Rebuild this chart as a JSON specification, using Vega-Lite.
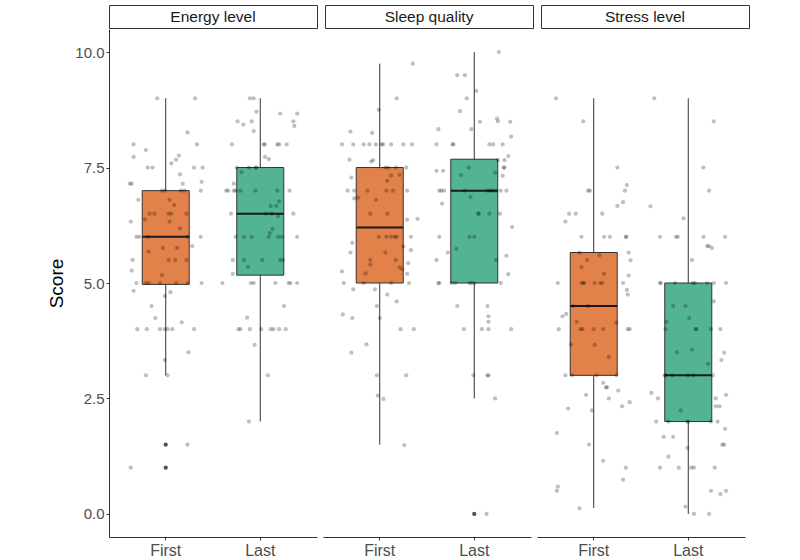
{
"$schema": "https://vega.github.io/schema/vega-lite/v6.json",
"padding": {"left": 47, "top": 4, "right": 0, "bottom": 0},
"background": "white",
"config": {
  "font": "Liberation Sans",
  "view": {"stroke": null},
  "axis": {"labelFont": "Liberation Sans", "labelFontSize": 15, "labelColor": "#4D4D4D", "domainColor": "#333333", "tickColor": "#333333", "tickSize": 3, "grid": false, "titleFont": "Liberation Sans", "titleFontWeight": "normal", "titleFontSize": 19, "titleColor": "#000000"},
  "concat": {"spacing": 0}
},
"data": {"values": [
{"kind":"box","panel":"Energy level","time":"First","lower":3.0,"q1":4.97,"median":6.0,"q3":7.0,"upper":9.0},
{"kind":"box","panel":"Energy level","time":"Last","lower":2.0,"q1":5.17,"median":6.5,"q3":7.5,"upper":9.0},
{"kind":"box","panel":"Sleep quality","time":"First","lower":1.5,"q1":5.0,"median":6.2,"q3":7.5,"upper":9.75},
{"kind":"box","panel":"Sleep quality","time":"Last","lower":2.5,"q1":5.0,"median":7.0,"q3":7.68,"upper":10.0},
{"kind":"box","panel":"Stress level","time":"First","lower":0.13,"q1":3.0,"median":4.5,"q3":5.66,"upper":9.0},
{"kind":"box","panel":"Stress level","time":"Last","lower":0.0,"q1":2.0,"median":3.0,"q3":5.0,"upper":9.0},
{"kind":"out","panel":"Energy level","time":"First","score":1.5},
{"kind":"out","panel":"Energy level","time":"First","score":1.0},
{"kind":"out","panel":"Sleep quality","time":"Last","score":0.0},
{"kind":"pt","panel":"Energy level","time":"First","score":9.0,"jitter":-0.09},
{"kind":"pt","panel":"Energy level","time":"First","score":9.0,"jitter":0.31},
{"kind":"pt","panel":"Energy level","time":"First","score":8.26,"jitter":0.23},
{"kind":"pt","panel":"Energy level","time":"First","score":8.0,"jitter":-0.34},
{"kind":"pt","panel":"Energy level","time":"First","score":8.0,"jitter":0.33},
{"kind":"pt","panel":"Energy level","time":"First","score":7.88,"jitter":-0.21},
{"kind":"pt","panel":"Energy level","time":"First","score":7.73,"jitter":-0.34},
{"kind":"pt","panel":"Energy level","time":"First","score":7.76,"jitter":0.14},
{"kind":"pt","panel":"Energy level","time":"First","score":7.67,"jitter":0.11},
{"kind":"pt","panel":"Energy level","time":"First","score":7.59,"jitter":0.06},
{"kind":"pt","panel":"Energy level","time":"First","score":7.5,"jitter":-0.19},
{"kind":"pt","panel":"Energy level","time":"First","score":7.5,"jitter":-0.14},
{"kind":"pt","panel":"Energy level","time":"First","score":7.5,"jitter":0.3},
{"kind":"pt","panel":"Energy level","time":"First","score":7.5,"jitter":0.39},
{"kind":"pt","panel":"Energy level","time":"First","score":7.35,"jitter":0.15},
{"kind":"pt","panel":"Energy level","time":"First","score":7.15,"jitter":-0.38},
{"kind":"pt","panel":"Energy level","time":"First","score":7.15,"jitter":-0.36},
{"kind":"pt","panel":"Energy level","time":"First","score":7.15,"jitter":0.18},
{"kind":"pt","panel":"Energy level","time":"First","score":7.19,"jitter":0.38},
{"kind":"pt","panel":"Energy level","time":"First","score":7.0,"jitter":-0.04},
{"kind":"pt","panel":"Energy level","time":"First","score":7.0,"jitter":-0.01},
{"kind":"pt","panel":"Energy level","time":"First","score":7.0,"jitter":0.16},
{"kind":"pt","panel":"Energy level","time":"First","score":7.0,"jitter":0.2},
{"kind":"pt","panel":"Energy level","time":"First","score":7.0,"jitter":0.37},
{"kind":"pt","panel":"Energy level","time":"First","score":6.8,"jitter":-0.29},
{"kind":"pt","panel":"Energy level","time":"First","score":6.8,"jitter":0.04},
{"kind":"pt","panel":"Energy level","time":"First","score":6.69,"jitter":0.09},
{"kind":"pt","panel":"Energy level","time":"First","score":6.5,"jitter":-0.17},
{"kind":"pt","panel":"Energy level","time":"First","score":6.5,"jitter":-0.12},
{"kind":"pt","panel":"Energy level","time":"First","score":6.5,"jitter":0.03},
{"kind":"pt","panel":"Energy level","time":"First","score":6.5,"jitter":0.06},
{"kind":"pt","panel":"Energy level","time":"First","score":6.5,"jitter":0.22},
{"kind":"pt","panel":"Energy level","time":"First","score":6.38,"jitter":-0.22},
{"kind":"pt","panel":"Energy level","time":"First","score":6.33,"jitter":0.04},
{"kind":"pt","panel":"Energy level","time":"First","score":6.33,"jitter":-0.37},
{"kind":"pt","panel":"Energy level","time":"First","score":6.18,"jitter":0.15},
{"kind":"pt","panel":"Energy level","time":"First","score":6.0,"jitter":-0.31},
{"kind":"pt","panel":"Energy level","time":"First","score":6.0,"jitter":-0.28},
{"kind":"pt","panel":"Energy level","time":"First","score":6.0,"jitter":-0.19},
{"kind":"pt","panel":"Energy level","time":"First","score":6.0,"jitter":0.23},
{"kind":"pt","panel":"Energy level","time":"First","score":6.0,"jitter":0.37},
{"kind":"pt","panel":"Energy level","time":"First","score":5.8,"jitter":0.28},
{"kind":"pt","panel":"Energy level","time":"First","score":5.68,"jitter":-0.18},
{"kind":"pt","panel":"Energy level","time":"First","score":5.76,"jitter":-0.03},
{"kind":"pt","panel":"Energy level","time":"First","score":5.76,"jitter":0.12},
{"kind":"pt","panel":"Energy level","time":"First","score":5.5,"jitter":-0.35},
{"kind":"pt","panel":"Energy level","time":"First","score":5.5,"jitter":0.03},
{"kind":"pt","panel":"Energy level","time":"First","score":5.5,"jitter":0.1},
{"kind":"pt","panel":"Energy level","time":"First","score":5.5,"jitter":0.22},
{"kind":"pt","panel":"Energy level","time":"First","score":5.27,"jitter":-0.36},
{"kind":"pt","panel":"Energy level","time":"First","score":5.17,"jitter":-0.04},
{"kind":"pt","panel":"Energy level","time":"First","score":5.0,"jitter":-0.31},
{"kind":"pt","panel":"Energy level","time":"First","score":5.0,"jitter":-0.21},
{"kind":"pt","panel":"Energy level","time":"First","score":5.0,"jitter":-0.18},
{"kind":"pt","panel":"Energy level","time":"First","score":5.0,"jitter":-0.06},
{"kind":"pt","panel":"Energy level","time":"First","score":5.0,"jitter":0.11},
{"kind":"pt","panel":"Energy level","time":"First","score":5.0,"jitter":0.23},
{"kind":"pt","panel":"Energy level","time":"First","score":5.0,"jitter":0.38},
{"kind":"pt","panel":"Energy level","time":"First","score":4.83,"jitter":-0.34},
{"kind":"pt","panel":"Energy level","time":"First","score":4.8,"jitter":0.05},
{"kind":"pt","panel":"Energy level","time":"First","score":4.72,"jitter":-0.01},
{"kind":"pt","panel":"Energy level","time":"First","score":4.5,"jitter":-0.15},
{"kind":"pt","panel":"Energy level","time":"First","score":4.24,"jitter":-0.11},
{"kind":"pt","panel":"Energy level","time":"First","score":4.15,"jitter":0.17},
{"kind":"pt","panel":"Energy level","time":"First","score":4.0,"jitter":-0.3},
{"kind":"pt","panel":"Energy level","time":"First","score":4.0,"jitter":-0.2},
{"kind":"pt","panel":"Energy level","time":"First","score":4.0,"jitter":-0.06},
{"kind":"pt","panel":"Energy level","time":"First","score":4.0,"jitter":-0.01},
{"kind":"pt","panel":"Energy level","time":"First","score":4.0,"jitter":0.02},
{"kind":"pt","panel":"Energy level","time":"First","score":4.0,"jitter":0.07},
{"kind":"pt","panel":"Energy level","time":"First","score":4.0,"jitter":0.3},
{"kind":"pt","panel":"Energy level","time":"First","score":3.5,"jitter":0.24},
{"kind":"pt","panel":"Energy level","time":"First","score":3.33,"jitter":-0.01},
{"kind":"pt","panel":"Energy level","time":"First","score":3.0,"jitter":-0.21},
{"kind":"pt","panel":"Energy level","time":"First","score":3.0,"jitter":0.02},
{"kind":"pt","panel":"Energy level","time":"First","score":1.5,"jitter":0.23},
{"kind":"pt","panel":"Energy level","time":"First","score":1.0,"jitter":-0.37},
{"kind":"pt","panel":"Energy level","time":"Last","score":9.0,"jitter":-0.11},
{"kind":"pt","panel":"Energy level","time":"Last","score":9.0,"jitter":-0.07},
{"kind":"pt","panel":"Energy level","time":"Last","score":8.71,"jitter":-0.04},
{"kind":"pt","panel":"Energy level","time":"Last","score":8.67,"jitter":0.21},
{"kind":"pt","panel":"Energy level","time":"Last","score":8.67,"jitter":0.39},
{"kind":"pt","panel":"Energy level","time":"Last","score":8.5,"jitter":-0.24},
{"kind":"pt","panel":"Energy level","time":"Last","score":8.43,"jitter":-0.18},
{"kind":"pt","panel":"Energy level","time":"Last","score":8.5,"jitter":-0.09},
{"kind":"pt","panel":"Energy level","time":"Last","score":8.5,"jitter":0.35},
{"kind":"pt","panel":"Energy level","time":"Last","score":8.4,"jitter":0.36},
{"kind":"pt","panel":"Energy level","time":"Last","score":8.29,"jitter":-0.07},
{"kind":"pt","panel":"Energy level","time":"Last","score":8.0,"jitter":-0.3},
{"kind":"pt","panel":"Energy level","time":"Last","score":8.0,"jitter":0.035},
{"kind":"pt","panel":"Energy level","time":"Last","score":8.0,"jitter":0.05},
{"kind":"pt","panel":"Energy level","time":"Last","score":8.0,"jitter":0.18},
{"kind":"pt","panel":"Energy level","time":"Last","score":8.0,"jitter":0.2},
{"kind":"pt","panel":"Energy level","time":"Last","score":8.0,"jitter":0.28},
{"kind":"pt","panel":"Energy level","time":"Last","score":7.73,"jitter":0.05},
{"kind":"pt","panel":"Energy level","time":"Last","score":7.68,"jitter":0.09},
{"kind":"pt","panel":"Energy level","time":"Last","score":7.5,"jitter":-0.25},
{"kind":"pt","panel":"Energy level","time":"Last","score":7.5,"jitter":-0.12},
{"kind":"pt","panel":"Energy level","time":"Last","score":7.5,"jitter":-0.05},
{"kind":"pt","panel":"Energy level","time":"Last","score":7.5,"jitter":-0.04},
{"kind":"pt","panel":"Energy level","time":"Last","score":7.4,"jitter":-0.2},
{"kind":"pt","panel":"Energy level","time":"Last","score":7.15,"jitter":-0.28},
{"kind":"pt","panel":"Energy level","time":"Last","score":7.0,"jitter":-0.36},
{"kind":"pt","panel":"Energy level","time":"Last","score":7.0,"jitter":-0.34},
{"kind":"pt","panel":"Energy level","time":"Last","score":7.0,"jitter":-0.28},
{"kind":"pt","panel":"Energy level","time":"Last","score":7.0,"jitter":-0.26},
{"kind":"pt","panel":"Energy level","time":"Last","score":7.0,"jitter":-0.21},
{"kind":"pt","panel":"Energy level","time":"Last","score":7.0,"jitter":-0.05},
{"kind":"pt","panel":"Energy level","time":"Last","score":7.0,"jitter":0.18},
{"kind":"pt","panel":"Energy level","time":"Last","score":7.0,"jitter":0.31},
{"kind":"pt","panel":"Energy level","time":"Last","score":6.77,"jitter":0.2},
{"kind":"pt","panel":"Energy level","time":"Last","score":6.67,"jitter":0.11},
{"kind":"pt","panel":"Energy level","time":"Last","score":6.67,"jitter":0.17},
{"kind":"pt","panel":"Energy level","time":"Last","score":6.5,"jitter":-0.31},
{"kind":"pt","panel":"Energy level","time":"Last","score":6.5,"jitter":0.06},
{"kind":"pt","panel":"Energy level","time":"Last","score":6.5,"jitter":0.12},
{"kind":"pt","panel":"Energy level","time":"Last","score":6.5,"jitter":0.35},
{"kind":"pt","panel":"Energy level","time":"Last","score":6.45,"jitter":0.19},
{"kind":"pt","panel":"Energy level","time":"Last","score":6.17,"jitter":0.13},
{"kind":"pt","panel":"Energy level","time":"Last","score":6.08,"jitter":0.1},
{"kind":"pt","panel":"Energy level","time":"Last","score":6.0,"jitter":-0.26},
{"kind":"pt","panel":"Energy level","time":"Last","score":6.0,"jitter":-0.17},
{"kind":"pt","panel":"Energy level","time":"Last","score":6.0,"jitter":-0.09},
{"kind":"pt","panel":"Energy level","time":"Last","score":6.0,"jitter":0.09},
{"kind":"pt","panel":"Energy level","time":"Last","score":6.0,"jitter":0.19},
{"kind":"pt","panel":"Energy level","time":"Last","score":6.0,"jitter":0.23},
{"kind":"pt","panel":"Energy level","time":"Last","score":6.0,"jitter":0.39},
{"kind":"pt","panel":"Energy level","time":"Last","score":5.5,"jitter":-0.29},
{"kind":"pt","panel":"Energy level","time":"Last","score":5.5,"jitter":-0.17},
{"kind":"pt","panel":"Energy level","time":"Last","score":5.5,"jitter":0.02},
{"kind":"pt","panel":"Energy level","time":"Last","score":5.5,"jitter":0.21},
{"kind":"pt","panel":"Energy level","time":"Last","score":5.5,"jitter":0.24},
{"kind":"pt","panel":"Energy level","time":"Last","score":5.35,"jitter":-0.13},
{"kind":"pt","panel":"Energy level","time":"Last","score":5.2,"jitter":-0.29},
{"kind":"pt","panel":"Energy level","time":"Last","score":5.0,"jitter":-0.4},
{"kind":"pt","panel":"Energy level","time":"Last","score":5.0,"jitter":-0.1},
{"kind":"pt","panel":"Energy level","time":"Last","score":5.0,"jitter":-0.07},
{"kind":"pt","panel":"Energy level","time":"Last","score":5.0,"jitter":0.16},
{"kind":"pt","panel":"Energy level","time":"Last","score":5.0,"jitter":0.3},
{"kind":"pt","panel":"Energy level","time":"Last","score":5.0,"jitter":0.32},
{"kind":"pt","panel":"Energy level","time":"Last","score":5.0,"jitter":0.39},
{"kind":"pt","panel":"Energy level","time":"Last","score":4.5,"jitter":0.25},
{"kind":"pt","panel":"Energy level","time":"Last","score":4.25,"jitter":-0.14},
{"kind":"pt","panel":"Energy level","time":"Last","score":4.0,"jitter":-0.23},
{"kind":"pt","panel":"Energy level","time":"Last","score":4.0,"jitter":-0.21},
{"kind":"pt","panel":"Energy level","time":"Last","score":4.0,"jitter":-0.11},
{"kind":"pt","panel":"Energy level","time":"Last","score":4.0,"jitter":0.01},
{"kind":"pt","panel":"Energy level","time":"Last","score":4.0,"jitter":0.11},
{"kind":"pt","panel":"Energy level","time":"Last","score":4.0,"jitter":0.14},
{"kind":"pt","panel":"Energy level","time":"Last","score":4.0,"jitter":0.2},
{"kind":"pt","panel":"Energy level","time":"Last","score":4.0,"jitter":0.27},
{"kind":"pt","panel":"Energy level","time":"Last","score":3.66,"jitter":-0.06},
{"kind":"pt","panel":"Energy level","time":"Last","score":3.0,"jitter":0.08},
{"kind":"pt","panel":"Energy level","time":"Last","score":2.0,"jitter":-0.12},
{"kind":"pt","panel":"Sleep quality","time":"First","score":9.75,"jitter":0.35},
{"kind":"pt","panel":"Sleep quality","time":"First","score":9.0,"jitter":0.18},
{"kind":"pt","panel":"Sleep quality","time":"First","score":8.75,"jitter":-0.01},
{"kind":"pt","panel":"Sleep quality","time":"First","score":8.28,"jitter":-0.31},
{"kind":"pt","panel":"Sleep quality","time":"First","score":8.25,"jitter":-0.08},
{"kind":"pt","panel":"Sleep quality","time":"First","score":8.0,"jitter":-0.4},
{"kind":"pt","panel":"Sleep quality","time":"First","score":8.0,"jitter":-0.28},
{"kind":"pt","panel":"Sleep quality","time":"First","score":8.0,"jitter":-0.17},
{"kind":"pt","panel":"Sleep quality","time":"First","score":8.0,"jitter":-0.11},
{"kind":"pt","panel":"Sleep quality","time":"First","score":8.0,"jitter":-0.04},
{"kind":"pt","panel":"Sleep quality","time":"First","score":8.0,"jitter":0.02},
{"kind":"pt","panel":"Sleep quality","time":"First","score":8.0,"jitter":0.035},
{"kind":"pt","panel":"Sleep quality","time":"First","score":8.0,"jitter":0.12},
{"kind":"pt","panel":"Sleep quality","time":"First","score":8.0,"jitter":0.25},
{"kind":"pt","panel":"Sleep quality","time":"First","score":8.0,"jitter":0.34},
{"kind":"pt","panel":"Sleep quality","time":"First","score":7.67,"jitter":-0.32},
{"kind":"pt","panel":"Sleep quality","time":"First","score":7.63,"jitter":-0.09},
{"kind":"pt","panel":"Sleep quality","time":"First","score":7.66,"jitter":-0.07},
{"kind":"pt","panel":"Sleep quality","time":"First","score":7.5,"jitter":0.06},
{"kind":"pt","panel":"Sleep quality","time":"First","score":7.5,"jitter":0.09},
{"kind":"pt","panel":"Sleep quality","time":"First","score":7.5,"jitter":0.17},
{"kind":"pt","panel":"Sleep quality","time":"First","score":7.5,"jitter":0.28},
{"kind":"pt","panel":"Sleep quality","time":"First","score":7.28,"jitter":-0.3},
{"kind":"pt","panel":"Sleep quality","time":"First","score":7.34,"jitter":0.21},
{"kind":"pt","panel":"Sleep quality","time":"First","score":7.33,"jitter":0.12},
{"kind":"pt","panel":"Sleep quality","time":"First","score":7.21,"jitter":0.08},
{"kind":"pt","panel":"Sleep quality","time":"First","score":7.0,"jitter":-0.34},
{"kind":"pt","panel":"Sleep quality","time":"First","score":7.0,"jitter":-0.27},
{"kind":"pt","panel":"Sleep quality","time":"First","score":7.0,"jitter":-0.13},
{"kind":"pt","panel":"Sleep quality","time":"First","score":7.0,"jitter":0.07},
{"kind":"pt","panel":"Sleep quality","time":"First","score":7.0,"jitter":0.14},
{"kind":"pt","panel":"Sleep quality","time":"First","score":7.0,"jitter":0.29},
{"kind":"pt","panel":"Sleep quality","time":"First","score":6.83,"jitter":-0.27},
{"kind":"pt","panel":"Sleep quality","time":"First","score":6.85,"jitter":-0.23},
{"kind":"pt","panel":"Sleep quality","time":"First","score":6.8,"jitter":-0.04},
{"kind":"pt","panel":"Sleep quality","time":"First","score":6.5,"jitter":-0.1},
{"kind":"pt","panel":"Sleep quality","time":"First","score":6.5,"jitter":0.08},
{"kind":"pt","panel":"Sleep quality","time":"First","score":6.37,"jitter":0.29},
{"kind":"pt","panel":"Sleep quality","time":"First","score":6.39,"jitter":0.4},
{"kind":"pt","panel":"Sleep quality","time":"First","score":6.0,"jitter":-0.01},
{"kind":"pt","panel":"Sleep quality","time":"First","score":6.0,"jitter":0.07},
{"kind":"pt","panel":"Sleep quality","time":"First","score":6.0,"jitter":0.12},
{"kind":"pt","panel":"Sleep quality","time":"First","score":6.0,"jitter":0.16},
{"kind":"pt","panel":"Sleep quality","time":"First","score":6.0,"jitter":0.18},
{"kind":"pt","panel":"Sleep quality","time":"First","score":6.0,"jitter":0.33},
{"kind":"pt","panel":"Sleep quality","time":"First","score":5.87,"jitter":-0.29},
{"kind":"pt","panel":"Sleep quality","time":"First","score":5.79,"jitter":0.25},
{"kind":"pt","panel":"Sleep quality","time":"First","score":5.66,"jitter":-0.31},
{"kind":"pt","panel":"Sleep quality","time":"First","score":5.66,"jitter":0.06},
{"kind":"pt","panel":"Sleep quality","time":"First","score":5.71,"jitter":0.33},
{"kind":"pt","panel":"Sleep quality","time":"First","score":5.5,"jitter":-0.1},
{"kind":"pt","panel":"Sleep quality","time":"First","score":5.4,"jitter":-0.1},
{"kind":"pt","panel":"Sleep quality","time":"First","score":5.5,"jitter":0.17},
{"kind":"pt","panel":"Sleep quality","time":"First","score":5.34,"jitter":0.21},
{"kind":"pt","panel":"Sleep quality","time":"First","score":5.3,"jitter":0.24},
{"kind":"pt","panel":"Sleep quality","time":"First","score":5.43,"jitter":0.3},
{"kind":"pt","panel":"Sleep quality","time":"First","score":5.25,"jitter":-0.4},
{"kind":"pt","panel":"Sleep quality","time":"First","score":5.21,"jitter":-0.15},
{"kind":"pt","panel":"Sleep quality","time":"First","score":5.2,"jitter":0.29},
{"kind":"pt","panel":"Sleep quality","time":"First","score":5.0,"jitter":-0.38},
{"kind":"pt","panel":"Sleep quality","time":"First","score":5.0,"jitter":-0.17},
{"kind":"pt","panel":"Sleep quality","time":"First","score":5.0,"jitter":0.12},
{"kind":"pt","panel":"Sleep quality","time":"First","score":5.0,"jitter":0.31},
{"kind":"pt","panel":"Sleep quality","time":"First","score":4.86,"jitter":-0.28},
{"kind":"pt","panel":"Sleep quality","time":"First","score":4.86,"jitter":-0.05},
{"kind":"pt","panel":"Sleep quality","time":"First","score":4.75,"jitter":0.08},
{"kind":"pt","panel":"Sleep quality","time":"First","score":4.6,"jitter":0.18},
{"kind":"pt","panel":"Sleep quality","time":"First","score":4.5,"jitter":-0.03},
{"kind":"pt","panel":"Sleep quality","time":"First","score":4.32,"jitter":-0.39},
{"kind":"pt","panel":"Sleep quality","time":"First","score":4.24,"jitter":-0.29},
{"kind":"pt","panel":"Sleep quality","time":"First","score":4.24,"jitter":0.0},
{"kind":"pt","panel":"Sleep quality","time":"First","score":4.0,"jitter":0.22},
{"kind":"pt","panel":"Sleep quality","time":"First","score":4.0,"jitter":0.36},
{"kind":"pt","panel":"Sleep quality","time":"First","score":3.67,"jitter":-0.14},
{"kind":"pt","panel":"Sleep quality","time":"First","score":3.49,"jitter":-0.3},
{"kind":"pt","panel":"Sleep quality","time":"First","score":3.0,"jitter":-0.03},
{"kind":"pt","panel":"Sleep quality","time":"First","score":3.0,"jitter":0.28},
{"kind":"pt","panel":"Sleep quality","time":"First","score":2.56,"jitter":-0.02},
{"kind":"pt","panel":"Sleep quality","time":"First","score":2.49,"jitter":0.04},
{"kind":"pt","panel":"Sleep quality","time":"First","score":1.49,"jitter":0.26},
{"kind":"pt","panel":"Sleep quality","time":"Last","score":10.0,"jitter":0.26},
{"kind":"pt","panel":"Sleep quality","time":"Last","score":9.5,"jitter":-0.18},
{"kind":"pt","panel":"Sleep quality","time":"Last","score":9.5,"jitter":-0.1},
{"kind":"pt","panel":"Sleep quality","time":"Last","score":9.16,"jitter":0.02},
{"kind":"pt","panel":"Sleep quality","time":"Last","score":9.0,"jitter":-0.08},
{"kind":"pt","panel":"Sleep quality","time":"Last","score":8.72,"jitter":-0.15},
{"kind":"pt","panel":"Sleep quality","time":"Last","score":8.33,"jitter":-0.03},
{"kind":"pt","panel":"Sleep quality","time":"Last","score":8.49,"jitter":0.06},
{"kind":"pt","panel":"Sleep quality","time":"Last","score":8.56,"jitter":0.24},
{"kind":"pt","panel":"Sleep quality","time":"Last","score":8.5,"jitter":0.25},
{"kind":"pt","panel":"Sleep quality","time":"Last","score":8.49,"jitter":0.38},
{"kind":"pt","panel":"Sleep quality","time":"Last","score":8.17,"jitter":0.39},
{"kind":"pt","panel":"Sleep quality","time":"Last","score":8.33,"jitter":-0.38},
{"kind":"pt","panel":"Sleep quality","time":"Last","score":8.0,"jitter":-0.4},
{"kind":"pt","panel":"Sleep quality","time":"Last","score":8.0,"jitter":-0.23},
{"kind":"pt","panel":"Sleep quality","time":"Last","score":8.0,"jitter":-0.22},
{"kind":"pt","panel":"Sleep quality","time":"Last","score":8.0,"jitter":0.16},
{"kind":"pt","panel":"Sleep quality","time":"Last","score":8.0,"jitter":0.2},
{"kind":"pt","panel":"Sleep quality","time":"Last","score":8.0,"jitter":0.3},
{"kind":"pt","panel":"Sleep quality","time":"Last","score":7.75,"jitter":0.36},
{"kind":"pt","panel":"Sleep quality","time":"Last","score":7.66,"jitter":0.25},
{"kind":"pt","panel":"Sleep quality","time":"Last","score":7.66,"jitter":0.32},
{"kind":"pt","panel":"Sleep quality","time":"Last","score":7.5,"jitter":0.31},
{"kind":"pt","panel":"Sleep quality","time":"Last","score":7.5,"jitter":0.32},
{"kind":"pt","panel":"Sleep quality","time":"Last","score":7.43,"jitter":-0.4},
{"kind":"pt","panel":"Sleep quality","time":"Last","score":7.43,"jitter":-0.33},
{"kind":"pt","panel":"Sleep quality","time":"Last","score":7.5,"jitter":-0.06},
{"kind":"pt","panel":"Sleep quality","time":"Last","score":7.34,"jitter":-0.14},
{"kind":"pt","panel":"Sleep quality","time":"Last","score":7.39,"jitter":0.22},
{"kind":"pt","panel":"Sleep quality","time":"Last","score":7.32,"jitter":0.3},
{"kind":"pt","panel":"Sleep quality","time":"Last","score":7.0,"jitter":-0.37},
{"kind":"pt","panel":"Sleep quality","time":"Last","score":7.0,"jitter":-0.35},
{"kind":"pt","panel":"Sleep quality","time":"Last","score":7.0,"jitter":-0.32},
{"kind":"pt","panel":"Sleep quality","time":"Last","score":7.0,"jitter":-0.1},
{"kind":"pt","panel":"Sleep quality","time":"Last","score":7.0,"jitter":0.14},
{"kind":"pt","panel":"Sleep quality","time":"Last","score":7.0,"jitter":0.17},
{"kind":"pt","panel":"Sleep quality","time":"Last","score":7.0,"jitter":0.19},
{"kind":"pt","panel":"Sleep quality","time":"Last","score":7.0,"jitter":0.23},
{"kind":"pt","panel":"Sleep quality","time":"Last","score":7.0,"jitter":0.28},
{"kind":"pt","panel":"Sleep quality","time":"Last","score":7.0,"jitter":0.34},
{"kind":"pt","panel":"Sleep quality","time":"Last","score":6.72,"jitter":-0.34},
{"kind":"pt","panel":"Sleep quality","time":"Last","score":6.86,"jitter":-0.04},
{"kind":"pt","panel":"Sleep quality","time":"Last","score":6.5,"jitter":0.27},
{"kind":"pt","panel":"Sleep quality","time":"Last","score":6.5,"jitter":0.04},
{"kind":"pt","panel":"Sleep quality","time":"Last","score":6.5,"jitter":0.05},
{"kind":"pt","panel":"Sleep quality","time":"Last","score":6.5,"jitter":0.16},
{"kind":"pt","panel":"Sleep quality","time":"Last","score":6.21,"jitter":0.4},
{"kind":"pt","panel":"Sleep quality","time":"Last","score":6.0,"jitter":-0.37},
{"kind":"pt","panel":"Sleep quality","time":"Last","score":6.0,"jitter":-0.05},
{"kind":"pt","panel":"Sleep quality","time":"Last","score":6.0,"jitter":0.0},
{"kind":"pt","panel":"Sleep quality","time":"Last","score":5.74,"jitter":-0.19},
{"kind":"pt","panel":"Sleep quality","time":"Last","score":5.66,"jitter":-0.28},
{"kind":"pt","panel":"Sleep quality","time":"Last","score":5.5,"jitter":-0.4},
{"kind":"pt","panel":"Sleep quality","time":"Last","score":5.5,"jitter":0.23},
{"kind":"pt","panel":"Sleep quality","time":"Last","score":5.59,"jitter":0.34},
{"kind":"pt","panel":"Sleep quality","time":"Last","score":5.19,"jitter":0.36},
{"kind":"pt","panel":"Sleep quality","time":"Last","score":5.0,"jitter":-0.38},
{"kind":"pt","panel":"Sleep quality","time":"Last","score":5.0,"jitter":-0.37},
{"kind":"pt","panel":"Sleep quality","time":"Last","score":5.0,"jitter":-0.24},
{"kind":"pt","panel":"Sleep quality","time":"Last","score":5.0,"jitter":-0.2},
{"kind":"pt","panel":"Sleep quality","time":"Last","score":5.0,"jitter":-0.05},
{"kind":"pt","panel":"Sleep quality","time":"Last","score":5.0,"jitter":-0.03},
{"kind":"pt","panel":"Sleep quality","time":"Last","score":5.0,"jitter":0.0},
{"kind":"pt","panel":"Sleep quality","time":"Last","score":5.0,"jitter":0.28},
{"kind":"pt","panel":"Sleep quality","time":"Last","score":4.5,"jitter":-0.18},
{"kind":"pt","panel":"Sleep quality","time":"Last","score":4.5,"jitter":0.14},
{"kind":"pt","panel":"Sleep quality","time":"Last","score":4.28,"jitter":0.15},
{"kind":"pt","panel":"Sleep quality","time":"Last","score":4.16,"jitter":0.15},
{"kind":"pt","panel":"Sleep quality","time":"Last","score":4.0,"jitter":-0.11},
{"kind":"pt","panel":"Sleep quality","time":"Last","score":4.0,"jitter":0.08},
{"kind":"pt","panel":"Sleep quality","time":"Last","score":4.0,"jitter":0.15},
{"kind":"pt","panel":"Sleep quality","time":"Last","score":4.0,"jitter":0.39},
{"kind":"pt","panel":"Sleep quality","time":"Last","score":3.0,"jitter":-0.01},
{"kind":"pt","panel":"Sleep quality","time":"Last","score":3.0,"jitter":0.14},
{"kind":"pt","panel":"Sleep quality","time":"Last","score":3.0,"jitter":0.15},
{"kind":"pt","panel":"Sleep quality","time":"Last","score":2.5,"jitter":0.22},
{"kind":"pt","panel":"Sleep quality","time":"Last","score":0.0,"jitter":0.13},
{"kind":"pt","panel":"Stress level","time":"First","score":9.0,"jitter":-0.4},
{"kind":"pt","panel":"Stress level","time":"First","score":8.5,"jitter":-0.11},
{"kind":"pt","panel":"Stress level","time":"First","score":7.5,"jitter":0.25},
{"kind":"pt","panel":"Stress level","time":"First","score":7.0,"jitter":-0.06},
{"kind":"pt","panel":"Stress level","time":"First","score":7.0,"jitter":-0.04},
{"kind":"pt","panel":"Stress level","time":"First","score":7.12,"jitter":0.35},
{"kind":"pt","panel":"Stress level","time":"First","score":7.0,"jitter":0.33},
{"kind":"pt","panel":"Stress level","time":"First","score":6.75,"jitter":0.31},
{"kind":"pt","panel":"Stress level","time":"First","score":6.67,"jitter":0.25},
{"kind":"pt","panel":"Stress level","time":"First","score":6.5,"jitter":-0.26},
{"kind":"pt","panel":"Stress level","time":"First","score":6.5,"jitter":-0.19},
{"kind":"pt","panel":"Stress level","time":"First","score":6.5,"jitter":0.09},
{"kind":"pt","panel":"Stress level","time":"First","score":6.33,"jitter":-0.3},
{"kind":"pt","panel":"Stress level","time":"First","score":6.0,"jitter":-0.13},
{"kind":"pt","panel":"Stress level","time":"First","score":6.0,"jitter":0.11},
{"kind":"pt","panel":"Stress level","time":"First","score":6.0,"jitter":0.17},
{"kind":"pt","panel":"Stress level","time":"First","score":6.0,"jitter":0.34},
{"kind":"pt","panel":"Stress level","time":"First","score":6.0,"jitter":0.345},
{"kind":"pt","panel":"Stress level","time":"First","score":5.66,"jitter":-0.15},
{"kind":"pt","panel":"Stress level","time":"First","score":5.6,"jitter":0.06},
{"kind":"pt","panel":"Stress level","time":"First","score":5.66,"jitter":0.37},
{"kind":"pt","panel":"Stress level","time":"First","score":5.5,"jitter":-0.07},
{"kind":"pt","panel":"Stress level","time":"First","score":5.49,"jitter":0.39},
{"kind":"pt","panel":"Stress level","time":"First","score":5.34,"jitter":-0.13},
{"kind":"pt","panel":"Stress level","time":"First","score":5.2,"jitter":0.11},
{"kind":"pt","panel":"Stress level","time":"First","score":5.16,"jitter":0.37},
{"kind":"pt","panel":"Stress level","time":"First","score":5.0,"jitter":-0.38},
{"kind":"pt","panel":"Stress level","time":"First","score":5.0,"jitter":-0.13},
{"kind":"pt","panel":"Stress level","time":"First","score":5.0,"jitter":-0.11},
{"kind":"pt","panel":"Stress level","time":"First","score":5.0,"jitter":-0.1},
{"kind":"pt","panel":"Stress level","time":"First","score":5.0,"jitter":0.01},
{"kind":"pt","panel":"Stress level","time":"First","score":5.0,"jitter":0.07},
{"kind":"pt","panel":"Stress level","time":"First","score":5.0,"jitter":0.09},
{"kind":"pt","panel":"Stress level","time":"First","score":5.0,"jitter":0.31},
{"kind":"pt","panel":"Stress level","time":"First","score":4.85,"jitter":0.35},
{"kind":"pt","panel":"Stress level","time":"First","score":4.75,"jitter":0.36},
{"kind":"pt","panel":"Stress level","time":"First","score":4.28,"jitter":-0.33},
{"kind":"pt","panel":"Stress level","time":"First","score":4.33,"jitter":-0.29},
{"kind":"pt","panel":"Stress level","time":"First","score":4.5,"jitter":-0.22},
{"kind":"pt","panel":"Stress level","time":"First","score":4.5,"jitter":-0.06},
{"kind":"pt","panel":"Stress level","time":"First","score":4.16,"jitter":-0.18},
{"kind":"pt","panel":"Stress level","time":"First","score":4.14,"jitter":0.24},
{"kind":"pt","panel":"Stress level","time":"First","score":4.0,"jitter":-0.37},
{"kind":"pt","panel":"Stress level","time":"First","score":4.0,"jitter":-0.14},
{"kind":"pt","panel":"Stress level","time":"First","score":4.0,"jitter":-0.12},
{"kind":"pt","panel":"Stress level","time":"First","score":4.0,"jitter":0.0},
{"kind":"pt","panel":"Stress level","time":"First","score":4.0,"jitter":0.1},
{"kind":"pt","panel":"Stress level","time":"First","score":4.0,"jitter":0.36},
{"kind":"pt","panel":"Stress level","time":"First","score":4.0,"jitter":0.38},
{"kind":"pt","panel":"Stress level","time":"First","score":3.67,"jitter":-0.24},
{"kind":"pt","panel":"Stress level","time":"First","score":3.66,"jitter":0.01},
{"kind":"pt","panel":"Stress level","time":"First","score":3.4,"jitter":0.16},
{"kind":"pt","panel":"Stress level","time":"First","score":3.0,"jitter":-0.3},
{"kind":"pt","panel":"Stress level","time":"First","score":3.0,"jitter":-0.23},
{"kind":"pt","panel":"Stress level","time":"First","score":3.0,"jitter":0.03},
{"kind":"pt","panel":"Stress level","time":"First","score":3.0,"jitter":0.24},
{"kind":"pt","panel":"Stress level","time":"First","score":2.84,"jitter":0.1},
{"kind":"pt","panel":"Stress level","time":"First","score":2.74,"jitter":0.13},
{"kind":"pt","panel":"Stress level","time":"First","score":2.74,"jitter":0.14},
{"kind":"pt","panel":"Stress level","time":"First","score":2.67,"jitter":0.26},
{"kind":"pt","panel":"Stress level","time":"First","score":2.58,"jitter":-0.08},
{"kind":"pt","panel":"Stress level","time":"First","score":2.5,"jitter":0.16},
{"kind":"pt","panel":"Stress level","time":"First","score":2.28,"jitter":-0.27},
{"kind":"pt","panel":"Stress level","time":"First","score":2.24,"jitter":-0.02},
{"kind":"pt","panel":"Stress level","time":"First","score":2.33,"jitter":0.3},
{"kind":"pt","panel":"Stress level","time":"First","score":2.42,"jitter":0.38},
{"kind":"pt","panel":"Stress level","time":"First","score":1.75,"jitter":-0.39},
{"kind":"pt","panel":"Stress level","time":"First","score":1.5,"jitter":-0.05},
{"kind":"pt","panel":"Stress level","time":"First","score":1.15,"jitter":0.1},
{"kind":"pt","panel":"Stress level","time":"First","score":1.0,"jitter":0.34},
{"kind":"pt","panel":"Stress level","time":"First","score":0.74,"jitter":0.31},
{"kind":"pt","panel":"Stress level","time":"First","score":0.59,"jitter":-0.38},
{"kind":"pt","panel":"Stress level","time":"First","score":0.5,"jitter":-0.39},
{"kind":"pt","panel":"Stress level","time":"First","score":0.12,"jitter":-0.15},
{"kind":"pt","panel":"Stress level","time":"Last","score":9.0,"jitter":-0.36},
{"kind":"pt","panel":"Stress level","time":"Last","score":8.5,"jitter":0.27},
{"kind":"pt","panel":"Stress level","time":"Last","score":7.5,"jitter":0.16},
{"kind":"pt","panel":"Stress level","time":"Last","score":7.0,"jitter":0.22},
{"kind":"pt","panel":"Stress level","time":"Last","score":6.66,"jitter":-0.4},
{"kind":"pt","panel":"Stress level","time":"Last","score":6.4,"jitter":-0.05},
{"kind":"pt","panel":"Stress level","time":"Last","score":6.0,"jitter":-0.3},
{"kind":"pt","panel":"Stress level","time":"Last","score":6.0,"jitter":-0.13},
{"kind":"pt","panel":"Stress level","time":"Last","score":6.0,"jitter":-0.11},
{"kind":"pt","panel":"Stress level","time":"Last","score":6.0,"jitter":0.16},
{"kind":"pt","panel":"Stress level","time":"Last","score":6.0,"jitter":0.39},
{"kind":"pt","panel":"Stress level","time":"Last","score":5.8,"jitter":0.2},
{"kind":"pt","panel":"Stress level","time":"Last","score":5.8,"jitter":0.22},
{"kind":"pt","panel":"Stress level","time":"Last","score":5.76,"jitter":0.25},
{"kind":"pt","panel":"Stress level","time":"Last","score":5.5,"jitter":0.04},
{"kind":"pt","panel":"Stress level","time":"Last","score":5.0,"jitter":-0.3},
{"kind":"pt","panel":"Stress level","time":"Last","score":5.0,"jitter":-0.29},
{"kind":"pt","panel":"Stress level","time":"Last","score":5.0,"jitter":-0.14},
{"kind":"pt","panel":"Stress level","time":"Last","score":5.0,"jitter":0.05},
{"kind":"pt","panel":"Stress level","time":"Last","score":5.0,"jitter":0.07},
{"kind":"pt","panel":"Stress level","time":"Last","score":5.0,"jitter":0.2},
{"kind":"pt","panel":"Stress level","time":"Last","score":5.0,"jitter":0.27},
{"kind":"pt","panel":"Stress level","time":"Last","score":5.0,"jitter":0.4},
{"kind":"pt","panel":"Stress level","time":"Last","score":4.6,"jitter":0.27},
{"kind":"pt","panel":"Stress level","time":"Last","score":4.5,"jitter":-0.16},
{"kind":"pt","panel":"Stress level","time":"Last","score":4.5,"jitter":-0.03},
{"kind":"pt","panel":"Stress level","time":"Last","score":4.24,"jitter":0.01},
{"kind":"pt","panel":"Stress level","time":"Last","score":4.16,"jitter":-0.23},
{"kind":"pt","panel":"Stress level","time":"Last","score":4.0,"jitter":-0.24},
{"kind":"pt","panel":"Stress level","time":"Last","score":4.0,"jitter":0.08},
{"kind":"pt","panel":"Stress level","time":"Last","score":4.0,"jitter":0.085},
{"kind":"pt","panel":"Stress level","time":"Last","score":4.0,"jitter":0.24},
{"kind":"pt","panel":"Stress level","time":"Last","score":4.0,"jitter":0.34},
{"kind":"pt","panel":"Stress level","time":"Last","score":3.5,"jitter":-0.12},
{"kind":"pt","panel":"Stress level","time":"Last","score":3.56,"jitter":0.04},
{"kind":"pt","panel":"Stress level","time":"Last","score":3.49,"jitter":0.38},
{"kind":"pt","panel":"Stress level","time":"Last","score":3.33,"jitter":0.35},
{"kind":"pt","panel":"Stress level","time":"Last","score":3.25,"jitter":0.21},
{"kind":"pt","panel":"Stress level","time":"Last","score":3.0,"jitter":-0.25},
{"kind":"pt","panel":"Stress level","time":"Last","score":3.0,"jitter":-0.24},
{"kind":"pt","panel":"Stress level","time":"Last","score":3.0,"jitter":-0.17},
{"kind":"pt","panel":"Stress level","time":"Last","score":3.0,"jitter":0.0},
{"kind":"pt","panel":"Stress level","time":"Last","score":3.0,"jitter":0.05},
{"kind":"pt","panel":"Stress level","time":"Last","score":3.0,"jitter":0.26},
{"kind":"pt","panel":"Stress level","time":"Last","score":2.62,"jitter":-0.39},
{"kind":"pt","panel":"Stress level","time":"Last","score":2.5,"jitter":-0.32},
{"kind":"pt","panel":"Stress level","time":"Last","score":2.58,"jitter":0.4},
{"kind":"pt","panel":"Stress level","time":"Last","score":2.5,"jitter":0.29},
{"kind":"pt","panel":"Stress level","time":"Last","score":2.24,"jitter":-0.08},
{"kind":"pt","panel":"Stress level","time":"Last","score":2.33,"jitter":0.29},
{"kind":"pt","panel":"Stress level","time":"Last","score":2.33,"jitter":0.33},
{"kind":"pt","panel":"Stress level","time":"Last","score":2.0,"jitter":-0.34},
{"kind":"pt","panel":"Stress level","time":"Last","score":2.0,"jitter":-0.21},
{"kind":"pt","panel":"Stress level","time":"Last","score":2.0,"jitter":-0.01},
{"kind":"pt","panel":"Stress level","time":"Last","score":2.0,"jitter":0.0},
{"kind":"pt","panel":"Stress level","time":"Last","score":2.0,"jitter":0.24},
{"kind":"pt","panel":"Stress level","time":"Last","score":2.0,"jitter":0.31},
{"kind":"pt","panel":"Stress level","time":"Last","score":1.84,"jitter":0.39},
{"kind":"pt","panel":"Stress level","time":"Last","score":1.67,"jitter":-0.26},
{"kind":"pt","panel":"Stress level","time":"Last","score":1.67,"jitter":-0.16},
{"kind":"pt","panel":"Stress level","time":"Last","score":1.43,"jitter":-0.01},
{"kind":"pt","panel":"Stress level","time":"Last","score":1.5,"jitter":0.36},
{"kind":"pt","panel":"Stress level","time":"Last","score":1.5,"jitter":0.38},
{"kind":"pt","panel":"Stress level","time":"Last","score":1.24,"jitter":-0.21},
{"kind":"pt","panel":"Stress level","time":"Last","score":1.0,"jitter":-0.3},
{"kind":"pt","panel":"Stress level","time":"Last","score":1.0,"jitter":-0.1},
{"kind":"pt","panel":"Stress level","time":"Last","score":1.0,"jitter":0.03},
{"kind":"pt","panel":"Stress level","time":"Last","score":1.0,"jitter":0.06},
{"kind":"pt","panel":"Stress level","time":"Last","score":1.0,"jitter":0.28},
{"kind":"pt","panel":"Stress level","time":"Last","score":0.5,"jitter":0.24},
{"kind":"pt","panel":"Stress level","time":"Last","score":0.43,"jitter":0.34},
{"kind":"pt","panel":"Stress level","time":"Last","score":0.5,"jitter":0.4},
{"kind":"pt","panel":"Stress level","time":"Last","score":0.16,"jitter":-0.03},
{"kind":"pt","panel":"Stress level","time":"Last","score":0.0,"jitter":0.06},
{"kind":"pt","panel":"Stress level","time":"Last","score":0.0,"jitter":0.22}
]},
"vconcat": [
  {
    "transform": [{"filter": "datum.kind == 'box' && datum.time == 'First'"}],
    "facet": {"column": {"field": "panel", "type": "nominal", "sort": ["Energy level", "Sleep quality", "Stress level"], "header": {"title": null, "labels": false}}},
    "spacing": 6,
    "spec": {
      "width": 208,
      "height": 23,
      "view": {"stroke": "#333333", "strokeWidth": 1, "fill": "white"},
      "mark": {"type": "text", "fontSize": 15.5, "color": "#1A1A1A", "font": "Liberation Sans"},
      "encoding": {"text": {"field": "panel", "type": "nominal"}}
    }
  },
  {
    "facet": {"column": {"field": "panel", "type": "nominal", "sort": ["Energy level", "Sleep quality", "Stress level"], "header": {"title": null, "labels": false}}},
    "spacing": 6,
    "spec": {
      "width": 208,
      "height": 508,
      "encoding": {
        "x": {"field": "time", "type": "nominal", "sort": ["First", "Last"], "scale": {"paddingInner": 0, "paddingOuter": 0.1}, "axis": {"title": null, "labelAngle": 0, "labelFontSize": 16, "labelPadding": 2}}
      },
      "layer": [
        {
          "transform": [{"filter": "datum.kind == 'box'"}],
          "mark": {"type": "rule", "color": "#333333", "strokeWidth": 1},
          "encoding": {
            "y": {"field": "lower", "type": "quantitative", "scale": {"domain": [-0.5, 10.5], "nice": false, "zero": false}, "axis": {"title": "Score", "values": [0, 2.5, 5, 7.5, 10], "format": ".1f", "titlePadding": 8}},
            "y2": {"field": "upper"}
          }
        },
        {
          "transform": [{"filter": "datum.kind == 'box'"}],
          "mark": {"type": "bar", "width": 47, "stroke": "#333333", "strokeWidth": 1},
          "encoding": {
            "y": {"field": "q1", "type": "quantitative"},
            "y2": {"field": "q3"},
            "fill": {"field": "time", "type": "nominal", "scale": {"domain": ["First", "Last"], "range": ["#E3814A", "#53B492"]}, "legend": null}
          }
        },
        {
          "transform": [{"filter": "datum.kind == 'box'"}],
          "mark": {"type": "tick", "orient": "horizontal", "size": 47, "thickness": 2, "color": "#1A1A1A", "opacity": 1},
          "encoding": {
            "y": {"field": "median", "type": "quantitative"}
          }
        },
        {
          "transform": [{"filter": "datum.kind == 'out'"}],
          "mark": {"type": "circle", "size": 18, "color": "#333333", "opacity": 0.85},
          "encoding": {
            "y": {"field": "score", "type": "quantitative"}
          }
        },
        {
          "transform": [{"filter": "datum.kind == 'pt'"}],
          "mark": {"type": "circle", "size": 18, "color": "#000000", "opacity": 0.25},
          "encoding": {
            "y": {"field": "score", "type": "quantitative"},
            "xOffset": {"field": "jitter", "type": "quantitative", "scale": {"domain": [-0.5, 0.5]}}
          }
        }
      ]
    }
  }
]
}
